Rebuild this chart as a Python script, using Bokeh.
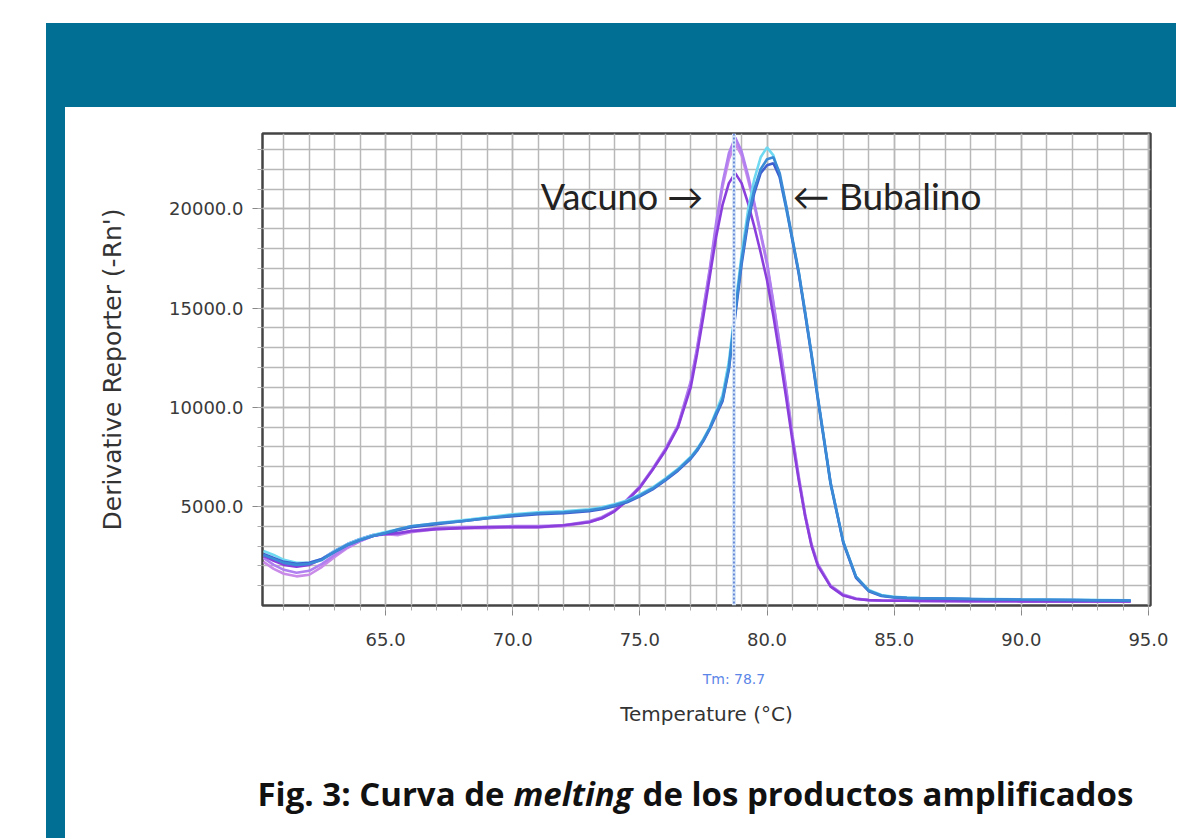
from bokeh.plotting import figure
from bokeh.models import (Range1d, FixedTicker, PrintfTickFormatter, LinearAxis,
                          Label, Span, Spacer)
from bokeh.layouts import row, column
from bokeh.embed import file_html
from bokeh.resources import INLINE
from bokeh.core.validation import silence
from bokeh.core.validation.warnings import MISSING_RENDERERS

silence(MISSING_RENDERERS, True)

# ---------------- data ----------------
temperature = [60.2, 60.6, 61.0, 61.5, 62.0, 62.5, 63.0, 63.5, 64.0, 64.5,
               65.0, 65.5, 66.0, 67.0, 68.0, 69.0, 70.0, 71.0, 72.0, 73.0,
               73.5, 74.0, 74.5, 75.0, 75.5, 76.0, 76.5, 77.0, 77.25, 77.5,
               77.75, 78.0, 78.25, 78.5, 78.75, 79.0, 79.25, 79.5, 79.75, 80.0,
               80.25, 80.5, 80.75, 81.0, 81.25, 81.5, 81.75, 82.0, 82.5, 83.0,
               83.5, 84.0, 84.5, 85.0, 85.5, 86.0, 88.0, 90.0, 92.0, 94.3]

vacuno_1 = [2400, 2050, 1800, 1650, 1750, 2100, 2550, 2950, 3250, 3500,
            3650, 3600, 3750, 3900, 3950, 3950, 4000, 4000, 4050, 4250,
            4450, 4800, 5350, 6000, 6900, 7900, 9100, 11300, 13000, 15000,
            17000, 19300, 21300, 22800, 23600, 22900, 21700, 20300, 18800, 17300,
            15300, 13200, 11000, 8600, 6500, 4600, 3100, 2100, 1000, 550,
            350, 280, 250, 250, 250, 240, 230, 220, 220, 200]

vacuno_2 = [2500, 2250, 2050, 1950, 2050, 2350, 2750, 3100, 3350, 3550,
            3600, 3650, 3750, 3850, 3900, 3950, 3950, 3950, 4050, 4200,
            4400, 4750, 5300, 5950, 6850, 7800, 9000, 11000, 12700, 14600,
            16600, 18600, 20200, 21300, 21800, 21300, 20300, 19100, 17800, 16400,
            14600, 12600, 10500, 8300, 6300, 4500, 3000, 2000, 950, 500,
            330, 270, 250, 240, 240, 230, 220, 210, 210, 200]

vacuno_3 = [2200, 1850, 1600, 1470, 1550, 1950, 2450, 2900, 3250, 3500,
            3600, 3550, 3700, 3850, 3900, 3900, 3950, 3950, 4000, 4200,
            4400, 4750, 5300, 5950, 6850, 7850, 9050, 11200, 12900, 14900,
            16900, 19100, 21100, 22500, 23300, 22700, 21500, 20200, 18700, 17200,
            15200, 13100, 10900, 8500, 6400, 4500, 3050, 2050, 980, 530,
            340, 270, 240, 240, 240, 230, 220, 210, 210, 200]

bubalino_1 = [2750, 2550, 2300, 2150, 2150, 2350, 2750, 3100, 3350, 3550,
              3700, 3850, 4000, 4150, 4300, 4450, 4600, 4700, 4750, 4850,
              4950, 5100, 5300, 5600, 5950, 6400, 6900, 7500, 7900, 8400,
              9000, 9800, 10600, 12300, 15000, 17700, 19900, 21500, 22600, 23100,
              22700, 21600, 20000, 18400, 16800, 14700, 12600, 10400, 6100, 3200,
              1450, 780, 530, 440, 400, 380, 340, 310, 290, 260]

bubalino_2 = [2550, 2350, 2150, 2050, 2100, 2300, 2700, 3050, 3300, 3500,
              3650, 3850, 4000, 4150, 4250, 4400, 4550, 4650, 4700, 4800,
              4900, 5050, 5250, 5550, 5900, 6350, 6850, 7450, 7850, 8350,
              8950, 9700, 10400, 12000, 14800, 17400, 19500, 21000, 22000, 22500,
              22600, 21800, 20200, 18500, 16800, 14800, 12700, 10500, 6200, 3200,
              1450, 750, 500, 420, 390, 370, 330, 300, 280, 250]

bubalino_3 = [2600, 2400, 2200, 2100, 2150, 2350, 2700, 3050, 3300, 3500,
              3650, 3800, 3950, 4100, 4250, 4400, 4500, 4600, 4650, 4750,
              4850, 5000, 5200, 5500, 5850, 6300, 6800, 7400, 7800, 8300,
              8900, 9600, 10300, 11900, 14600, 17200, 19300, 20800, 21800, 22200,
              22300, 21600, 20100, 18400, 16700, 14700, 12600, 10400, 6150, 3150,
              1400, 720, 480, 400, 370, 350, 320, 290, 270, 240]

x_major_ticks = [65, 70, 75, 80, 85, 90, 95]
x_minor_ticks = list(range(61, 96))
y_major_ticks = [5000, 10000, 15000, 20000]
y_minor_ticks = list(range(1000, 24000, 1000))
tm_value = 78.7

series = [
    (vacuno_3, "#c98ae8"),
    (vacuno_1, "#b07ff0"),
    (vacuno_2, "#8a3edc"),
    (bubalino_1, "#6fd9f2"),
    (bubalino_3, "#3f5fd0"),
    (bubalino_2, "#3b8ad6"),
]

caption_parts = ["Fig. 3: Curva de", "melting", "de los productos amplificados"]

TEAL = "#016f94"

# ---------------- main chart ----------------
p = figure(width=1111, height=643, toolbar_location=None, output_backend="svg",
           x_range=Range1d(60.16, 95.08), y_range=Range1d(0, 23800),
           min_border_left=197, min_border_right=26, min_border_top=26,
           min_border_bottom=145, background_fill_color="white",
           border_fill_color="white", outline_line_color="#444444",
           outline_line_width=2.5)
p.frame_align = False

grid_col = "#b8b8b8"
for g in (p.xgrid, p.ygrid):
    g.grid_line_color = grid_col
    g.grid_line_width = 1.5
    g.minor_grid_line_color = grid_col
    g.minor_grid_line_width = 1.5

xa = p.xaxis[0]
xa.ticker = FixedTicker(ticks=x_major_ticks, minor_ticks=x_minor_ticks)
ya = p.yaxis[0]
ya.ticker = FixedTicker(ticks=y_major_ticks, minor_ticks=y_minor_ticks)
for ax in (xa, ya):
    ax.formatter = PrintfTickFormatter(format="%.1f")
    ax.axis_line_color = None
    ax.major_tick_line_color = "#888888"
    ax.minor_tick_line_color = "#aaaaaa"
    ax.major_tick_in = 0
    ax.minor_tick_in = 0
    ax.major_tick_out = 10
    ax.minor_tick_out = 5
    ax.major_label_text_font = "DejaVu Sans"
    ax.major_label_text_font_size = "18px"
    ax.major_label_text_color = "#3a3a3a"
xa.major_label_standoff = 17
ya.major_label_standoff = 9
ya.axis_label = "Derivative Reporter (-Rn')"
ya.axis_label_text_font = "DejaVu Sans"
ya.axis_label_text_font_size = "25px"
ya.axis_label_text_font_style = "normal"
ya.axis_label_text_color = "#333333"
ya.axis_label_standoff = 39

tm_axis = LinearAxis(ticker=FixedTicker(ticks=[tm_value], minor_ticks=[]),
                     formatter=PrintfTickFormatter(format="Tm: %.1f"))
tm_axis.axis_line_color = None
tm_axis.major_tick_line_color = None
tm_axis.minor_tick_line_color = None
tm_axis.major_tick_out = 0
tm_axis.major_tick_in = 0
tm_axis.major_label_standoff = 22
tm_axis.major_label_text_font = "DejaVu Sans"
tm_axis.major_label_text_font_size = "14px"
tm_axis.major_label_text_color = "#5b86e8"
tm_axis.axis_label = "Temperature (°C)"
tm_axis.axis_label_text_font = "DejaVu Sans"
tm_axis.axis_label_text_font_size = "20px"
tm_axis.axis_label_text_font_style = "normal"
tm_axis.axis_label_text_color = "#333333"
tm_axis.axis_label_standoff = 12
p.add_layout(tm_axis, "below")

p.add_layout(Span(location=tm_value, dimension="height", line_color="#d6e6f7",
                  line_width=4))
p.add_layout(Span(location=tm_value, dimension="height", line_color="#4b6fd0",
                  line_width=1.5, line_dash="2 2"))

for vals, col in series:
    p.line(temperature, vals, line_color=col, line_width=2.6)

p.add_layout(Label(x=71.1, y=20650, text="Vacuno \u2192", text_font="Lato",
                   text_font_size="36px", text_color="#222222",
                   text_baseline="alphabetic", text_align="left"))
p.add_layout(Label(x=81.0, y=20650, text="\u2190 Bubalino", text_font="Lato",
                   text_font_size="37px", text_color="#222222",
                   text_baseline="alphabetic", text_align="left"))

# ---------------- caption panel ----------------
CAP_W, CAP_H = 1111, 88
cap = figure(width=CAP_W, height=CAP_H, toolbar_location=None,
             output_backend="svg", min_border=0,
             x_range=Range1d(0, CAP_W), y_range=Range1d(0, CAP_H),
             background_fill_color="white", border_fill_color="white",
             outline_line_color=None)
cap.frame_align = False
cap.axis.visible = False
cap.grid.visible = False
cap_base = 45
cap_font = "33px"
cap.add_layout(Label(x=192, y=cap_base, text=caption_parts[0],
                     text_font="Open Sans", text_font_style="bold",
                     text_font_size=cap_font, text_color="#111111",
                     text_baseline="alphabetic"))
cap.add_layout(Label(x=448, y=cap_base, text=caption_parts[1],
                     text_font="Open Sans", text_font_style="bold italic",
                     text_font_size=cap_font, text_color="#111111",
                     text_baseline="alphabetic"))
cap.add_layout(Label(x=577, y=cap_base, text=caption_parts[2],
                     text_font="Open Sans", text_font_style="bold",
                     text_font_size=cap_font, text_color="#111111",
                     text_baseline="alphabetic"))

# ---------------- teal frame ----------------
top_bar = Spacer(width=1130, height=84, styles={"background-color": TEAL})
left_bar = Spacer(width=19, height=731, styles={"background-color": TEAL})

layout = column(Spacer(width=1176, height=23),
                row(Spacer(width=46, height=815),
                    column(top_bar, row(left_bar, column(p, cap)))))

open("out.html", "w").write(file_html(layout, INLINE))
